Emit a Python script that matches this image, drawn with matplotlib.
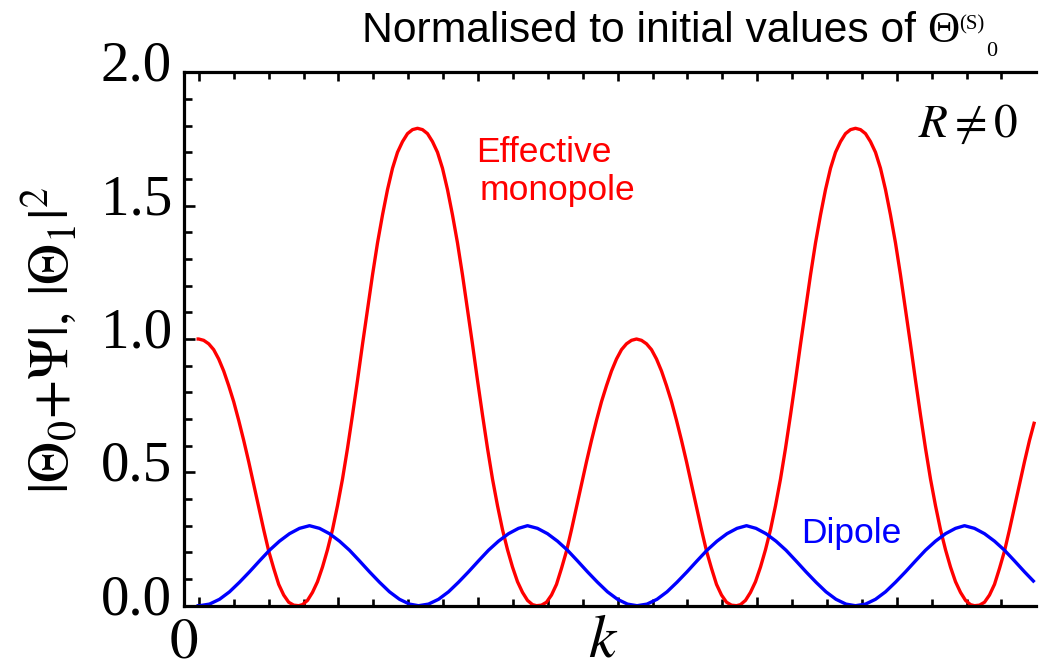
import matplotlib
matplotlib.use('Agg')
import matplotlib.pyplot as plt
from matplotlib.ticker import FixedLocator

# ---- data (k in arbitrary units, 0 at left frame) ----
red_k = [13, 15.2, 20.2, 25.2, 30.2, 35.2, 40.2, 45.2, 50.2, 55.2, 60.2, 65.2, 70.2, 75.2, 80.2,
         85.2, 90.2, 95.2, 100.2, 105.2, 110.2, 115.2,
         119, 124, 129, 134, 139, 144, 149, 154, 159, 164, 169, 174, 179, 184, 189, 194, 199, 204,
         209, 214, 219, 224, 229, 234, 239, 244, 249, 254, 259, 264, 269, 274, 279, 284, 289, 294,
         299, 304, 309, 314, 319, 324, 329, 334, 339, 344, 349, 353,
         358, 363, 368, 373, 378, 383, 388, 393, 398, 403, 408, 413, 418, 423, 428, 433, 438, 443,
         448, 453, 458, 463, 468, 473, 478, 483, 488, 493, 498, 503, 508, 513, 518, 523, 528, 533,
         538, 543, 548, 553,
         557, 562, 567, 572, 577, 582, 587, 592, 597, 602, 607, 612, 617, 622, 627, 632, 637, 642,
         647, 652, 657, 662, 667, 672, 677, 682, 687, 692, 697, 702, 707, 712, 717, 722, 727, 732,
         737, 742, 747, 752, 757, 762, 767, 772, 777, 782, 787, 791,
         796, 801, 806, 811, 816, 821, 826, 831, 836, 841, 846, 851]
red_val = [1.0, 1.0, 0.995, 0.982, 0.96, 0.925, 0.88, 0.825, 0.765, 0.695, 0.62, 0.54, 0.455, 0.37,
           0.285, 0.205, 0.14, 0.08, 0.04, 0.013, 0.002, 0.0,
           0.004, 0.02, 0.05, 0.09, 0.145, 0.21, 0.285, 0.375, 0.475, 0.59, 0.715, 0.845, 0.98, 1.11,
           1.24, 1.36, 1.465, 1.56, 1.64, 1.70, 1.74, 1.77, 1.785, 1.79,
           1.785, 1.77, 1.74, 1.70, 1.64, 1.56, 1.465, 1.36, 1.24, 1.11, 0.98, 0.845, 0.715, 0.59,
           0.475, 0.375, 0.285, 0.21, 0.145, 0.09, 0.05, 0.02, 0.004, 0.0,
           0.002, 0.013, 0.04, 0.08, 0.14, 0.205, 0.285, 0.37, 0.455, 0.54, 0.62, 0.695, 0.765, 0.825,
           0.88, 0.925, 0.96, 0.982, 0.995, 1.0,
           0.995, 0.982, 0.96, 0.925, 0.88, 0.825, 0.765, 0.695, 0.62, 0.54, 0.455, 0.37, 0.285,
           0.205, 0.14, 0.08, 0.04, 0.013, 0.002, 0.0,
           0.004, 0.02, 0.05, 0.09, 0.145, 0.21, 0.285, 0.375, 0.475, 0.59, 0.715, 0.845, 0.98, 1.11,
           1.24, 1.36, 1.465, 1.56, 1.64, 1.70, 1.74, 1.77, 1.785, 1.79,
           1.785, 1.77, 1.74, 1.70, 1.64, 1.56, 1.465, 1.36, 1.24, 1.11, 0.98, 0.845, 0.715, 0.59,
           0.475, 0.375, 0.285, 0.21, 0.145, 0.09, 0.05, 0.02, 0.004, 0.0,
           0.002, 0.013, 0.04, 0.08, 0.14, 0.205, 0.285, 0.37, 0.455, 0.54, 0.62, 0.69]

blue_k = [13, 16, 26, 36, 46, 56, 66, 76, 86, 96, 106, 116, 126, 136, 146, 156, 166, 176, 186, 196,
          206, 216, 226, 235,
          245, 255, 265, 275, 285, 295, 305, 315, 325, 335, 344, 354, 364, 374, 384, 394, 404, 414,
          424, 434, 444, 453.5,
          463.5, 473.5, 483.5, 493.5, 503.5, 513.5, 523.5, 533.5, 543.5, 553.5, 563, 572.5, 582.5,
          592.5, 602.5, 612.5, 622.5, 632.5, 642.5, 652.5, 662.5, 672,
          682, 692, 702, 712, 722, 732, 742, 752, 762, 772, 781, 791, 801, 811, 821, 831, 841, 851]
blue_val = [0.0, 0.0, 0.006, 0.024, 0.052, 0.088, 0.127, 0.168, 0.208, 0.242, 0.270, 0.290, 0.30,
            0.290, 0.270, 0.242, 0.208, 0.168, 0.127, 0.088, 0.052, 0.024, 0.006, 0.0,
            0.006, 0.024, 0.052, 0.088, 0.127, 0.168, 0.208, 0.242, 0.270, 0.290, 0.30, 0.290, 0.270,
            0.242, 0.208, 0.168, 0.127, 0.088, 0.052, 0.024, 0.006, 0.0,
            0.006, 0.024, 0.052, 0.088, 0.127, 0.168, 0.208, 0.242, 0.270, 0.290, 0.30, 0.290, 0.270,
            0.242, 0.208, 0.168, 0.127, 0.088, 0.052, 0.024, 0.006, 0.0,
            0.006, 0.024, 0.052, 0.088, 0.127, 0.168, 0.208, 0.242, 0.270, 0.290, 0.30, 0.290, 0.270,
            0.242, 0.208, 0.168, 0.127, 0.088]

y_major = [0.0, 0.5, 1.0, 1.5, 2.0]
y_labels = ['0.0', '0.5', '1.0', '1.5', '2.0']

# ---- figure ----
plt.rcParams['font.family'] = ['Liberation Serif', 'DejaVu Serif']
plt.rcParams['mathtext.fontset'] = 'stix'

W, H = 1040, 670
fig = plt.figure(figsize=(W / 100, H / 100), dpi=100)

def fx(x):
    return x / W

def fy(y):
    return 1 - y / H

left, right, top, bottom = 183.5, 1036.0, 72.3, 605.7
ax = fig.add_axes([fx(left), fy(bottom), (right - left) / W, (bottom - top) / H])

ax.plot(red_k, red_val, color='#ff0000', lw=2.4, solid_joinstyle='round', solid_capstyle='butt')
ax.plot(blue_k, blue_val, color='#0000ff', lw=2.4, solid_joinstyle='round', solid_capstyle='butt')

ax.set_xlim(0, 852.5)
ax.set_ylim(0, 2.0)

for s in ['left', 'top', 'bottom']:
    ax.spines[s].set_linewidth(2.3)
    ax.spines[s].set_color('black')
ax.spines['right'].set_visible(False)

# x ticks (no labels)
x_minor = [15.3 + 34.9 * i for i in range(25)]
x_major = x_minor[::4]
ax.xaxis.set_major_locator(FixedLocator(x_major))
ax.xaxis.set_minor_locator(FixedLocator(x_minor))
ax.tick_params(axis='x', which='both', direction='in', top=True, bottom=True,
               labelbottom=False, labeltop=False, width=1.9, color='black')
ax.tick_params(axis='x', which='major', length=6.8)
ax.tick_params(axis='x', which='minor', length=5.2)

# y ticks (labels drawn as annotations so they sit like the reference)
ax.yaxis.set_major_locator(FixedLocator(y_major))
ax.yaxis.set_minor_locator(FixedLocator([i / 10 for i in range(21)]))
ax.tick_params(axis='y', which='both', direction='in', left=True, right=False, width=1.9,
               color='black', labelleft=False)
ax.tick_params(axis='y', which='major', length=7.7)
ax.tick_params(axis='y', which='minor', length=5.4)
for v, lab in zip(y_major, y_labels):
    ax.annotate(lab, xy=(0, v), xycoords=('axes fraction', 'data'), xytext=(-8.3, 4.0),
                textcoords='offset points', ha='right', va='center', size=41,
                family='Liberation Serif', annotation_clip=False)

# title pieces
fig.text(fx(362), fy(42), 'Normalised to initial values of ', family='Liberation Sans',
         size=30.7, ha='left', va='baseline')
fig.text(fx(927), fy(42), '\u0398', family='Liberation Serif', size=32, ha='left', va='baseline')
fig.text(fx(959), fy(29), '(S)', family='Liberation Serif', size=15, ha='left', va='baseline')
fig.text(fx(986), fy(56), '0', family='Liberation Serif', size=16, ha='left', va='baseline')

# annotations
fig.text(fx(1018), fy(137), r'$R\neq 0$', size=34, ha='right', va='baseline')
fig.text(fx(476), fy(162), 'Effective', family='Liberation Sans', size=25.5, color='#ff0000',
         ha='left', va='baseline')
fig.text(fx(480), fy(200), 'monopole', family='Liberation Sans', size=25.5, color='#ff0000',
         ha='left', va='baseline')
fig.text(fx(801), fy(543), 'Dipole', family='Liberation Sans', size=25.5, color='#0000ff',
         ha='left', va='baseline')

# axis labels
fig.text(fx(183.5), fy(669.5), r'$0$', size=41, ha='center', va='bottom')
fig.text(fx(603), fy(669.5), r'$k$', size=44, ha='center', va='bottom')
fig.text(fx(50), fy(340), r'$|\Theta_0{+}\Psi|,\,|\Theta_1|^2$', size=41, rotation=90,
         ha='center', va='center')

fig.savefig('out.png', dpi=100)
